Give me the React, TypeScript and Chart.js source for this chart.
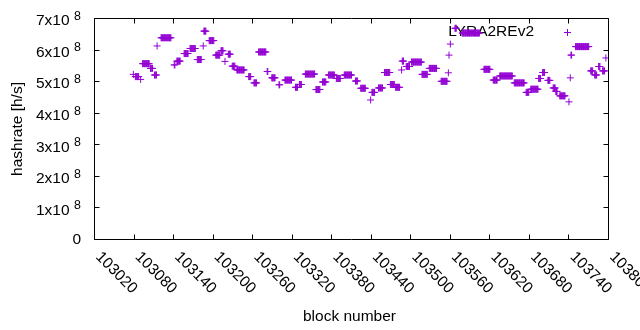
import React, { useEffect, useRef } from 'react';
import { Chart, registerables } from 'chart.js';

Chart.register(...registerables);

// Runs of consecutive blocks that share the same hashrate (h/s)
const runStart = [
  103079, 103082, 103090, 103093, 103105, 103111, 103115, 103121, 103141, 103145,
  103156, 103165, 103176, 103185, 103186, 103194, 103204, 103212, 103218, 103223,
  103229, 103236, 103254, 103262, 103269, 103282, 103289, 103300, 103309, 103325,
  103331, 103340, 103356, 103366, 103375, 103387, 103399, 103416, 103424, 103439,
  103441, 103451, 103460, 103469, 103477, 103486, 103487, 103493, 103501, 103517,
  103528, 103546, 103557, 103558, 103560, 103567, 103578, 103611, 103625, 103635,
  103657, 103675, 103682, 103694, 103700, 103708, 103716, 103720, 103726, 103740,
  103742, 103743, 103750, 103773, 103779, 103785, 103791, 103796,
];
const runEnd = [
  103079, 103087, 103090, 103103, 103108, 103114, 103115, 103136, 103142, 103150,
  103162, 103173, 103182, 103185, 103189, 103201, 103210, 103215, 103218, 103226,
  103233, 103247, 103257, 103266, 103280, 103283, 103294, 103301, 103319, 103328,
  103334, 103354, 103362, 103371, 103384, 103393, 103410, 103419, 103431, 103439,
  103445, 103457, 103468, 103475, 103483, 103486, 103489, 103498, 103516, 103525,
  103539, 103555, 103557, 103558, 103560, 103569, 103604, 103620, 103631, 103654,
  103672, 103679, 103693, 103697, 103703, 103711, 103719, 103722, 103734, 103740,
  103742, 103744, 103770, 103776, 103782, 103787, 103794, 103796,
];
const runValue = [
  5.23e8, 5.16e8, 5.07e8, 5.57e8, 5.42e8, 5.21e8, 6.13e8, 6.39e8, 5.53e8, 5.65e8,
  5.89e8, 6.05e8, 5.70e8, 6.13e8, 6.60e8, 6.30e8, 5.84e8, 5.98e8, 5.64e8, 5.87e8,
  5.49e8, 5.37e8, 5.16e8, 4.96e8, 5.94e8, 5.32e8, 5.12e8, 4.90e8, 5.05e8, 4.82e8,
  4.91e8, 5.24e8, 4.75e8, 4.99e8, 5.21e8, 5.10e8, 5.21e8, 5.02e8, 4.79e8, 4.42e8,
  4.66e8, 4.80e8, 5.29e8, 4.91e8, 4.82e8, 5.37e8, 5.65e8, 5.48e8, 5.62e8, 5.23e8,
  5.42e8, 5.01e8, 5.28e8, 5.84e8, 6.19e8, 6.69e8, 6.54e8, 5.39e8, 5.05e8, 5.18e8,
  4.96e8, 4.66e8, 4.76e8, 5.10e8, 5.29e8, 5.04e8, 4.80e8, 4.69e8, 4.55e8, 4.36e8,
  5.12e8, 5.84e8, 6.11e8, 5.34e8, 5.21e8, 5.48e8, 5.34e8, 5.75e8,
];

const xTicks = [
  103020, 103080, 103140, 103200, 103260, 103320, 103380, 103440,
  103500, 103560, 103620, 103680, 103740, 103800,
];
const yTicks = [0, 1e8, 2e8, 3e8, 4e8, 5e8, 6e8, 7e8];
const yTickMantissa = ['0', '1x10', '2x10', '3x10', '4x10', '5x10', '6x10', '7x10'];
const yTickExponent = ['', '8', '8', '8', '8', '8', '8', '8'];

const seriesName = 'LYRA2REv2';
const xTitle = 'block number';
const yTitle = 'hashrate [h/s]';

const COLOR = '#9400d3';
const FAMILY = '"Liberation Sans", Arial, sans-serif';
const FONT = `15.5px ${FAMILY}`;
const SUP_FONT = `12.4px ${FAMILY}`;
const TICK = 5;

const crisp = (v: number) => Math.round(v - 0.5) + 0.5;

const points: { x: number; y: number }[] = [];
runStart.forEach((s, i) => {
  for (let b = s; b <= runEnd[i]; b++) points.push({ x: b, y: runValue[i] });
});

const framePlugin = {
  id: 'gnuplotFrame',
  beforeDatasetsDraw(chart: any) {
    const { ctx, chartArea } = chart;
    const { right, top } = chartArea;
    ctx.save();
    ctx.font = FONT;
    ctx.fillStyle = '#000';
    ctx.textAlign = 'right';
    ctx.textBaseline = 'middle';
    ctx.fillText(seriesName, right - 74.5, top + 13);
    // legend sample
    const sx = crisp(right - 41), sy = crisp(top + 14);
    ctx.strokeStyle = COLOR;
    ctx.lineWidth = 1;
    ctx.beginPath();
    ctx.moveTo(sx - 3.5, sy);
    ctx.lineTo(sx + 3.5, sy);
    ctx.moveTo(sx, sy - 3.5);
    ctx.lineTo(sx, sy + 3.5);
    ctx.stroke();
    ctx.restore();
  },
  afterDraw(chart: any) {
    const { ctx, chartArea } = chart;
    const { left, right, top, bottom } = chartArea;
    const xs = chart.scales.x;
    const ys = chart.scales.y;
    ctx.save();
    ctx.strokeStyle = '#000';
    ctx.lineWidth = 1;
    ctx.beginPath();
    ctx.rect(crisp(left), crisp(top), crisp(right) - crisp(left), crisp(bottom) - crisp(top));
    xTicks.forEach((t) => {
      const x = crisp(xs.getPixelForValue(t));
      ctx.moveTo(x, crisp(bottom));
      ctx.lineTo(x, crisp(bottom) - TICK);
      ctx.moveTo(x, crisp(top));
      ctx.lineTo(x, crisp(top) + TICK);
    });
    yTicks.forEach((t) => {
      const y = crisp(ys.getPixelForValue(t));
      ctx.moveTo(crisp(left), y);
      ctx.lineTo(crisp(left) + TICK, y);
      ctx.moveTo(crisp(right), y);
      ctx.lineTo(crisp(right) - TICK, y);
    });
    ctx.stroke();

    ctx.fillStyle = '#000';
    // y tick labels
    const labelRight = left - 13.5;
    yTicks.forEach((t, i) => {
      const y = ys.getPixelForValue(t);
      const exp = yTickExponent[i];
      if (!exp) {
        ctx.font = FONT;
        ctx.textAlign = 'right';
        ctx.textBaseline = 'middle';
        ctx.fillText(yTickMantissa[i], labelRight, y);
        return;
      }
      ctx.font = SUP_FONT;
      ctx.textAlign = 'right';
      ctx.textBaseline = 'middle';
      const ew = ctx.measureText(exp).width;
      ctx.fillText(exp, labelRight, y - 2);
      ctx.font = FONT;
      ctx.fillText(yTickMantissa[i], labelRight - ew - 4.5, y + 2.5);
    });

    // x tick labels, rotated clockwise
    ctx.font = FONT;
    ctx.textAlign = 'left';
    ctx.textBaseline = 'middle';
    xTicks.forEach((t) => {
      const x = xs.getPixelForValue(t);
      ctx.save();
      ctx.translate(x + 3.5, bottom + 15);
      ctx.rotate(Math.PI / 4);
      ctx.fillText(String(t), 0, 0);
      ctx.restore();
    });

    // axis titles
    ctx.textAlign = 'center';
    ctx.textBaseline = 'middle';
    ctx.fillText(xTitle, (left + right) / 2 - 2, 317);
    ctx.save();
    ctx.translate(18, (top + bottom) / 2);
    ctx.rotate(-Math.PI / 2);
    ctx.fillText(yTitle, 0, 0);
    ctx.restore();
    ctx.restore();
  },
};

export default function App() {
  const ref = useRef<HTMLCanvasElement | null>(null);
  useEffect(() => {
    if (!ref.current) return;
    const chart = new Chart(ref.current, {
      type: 'scatter',
      data: {
        datasets: [
          {
            label: seriesName,
            data: points,
            pointStyle: 'cross',
            pointRadius: 3.5,
            pointBorderWidth: 1,
            borderColor: COLOR,
            backgroundColor: COLOR,
            showLine: false,
          },
        ],
      },
      options: {
        responsive: false,
        animation: false,
        devicePixelRatio: 1,
        events: [],
        layout: { padding: { left: 94.5, right: 31.5, top: 18.5, bottom: 90.5 } },
        scales: {
          x: { type: 'linear', min: 103020, max: 103800, display: false },
          y: { type: 'linear', min: 0, max: 7e8, display: false },
        },
        plugins: { legend: { display: false }, tooltip: { enabled: false } },
      },
      plugins: [framePlugin],
    });
    return () => chart.destroy();
  }, []);
  return (
    <div style={{ position: 'absolute', left: 0, top: 0, width: 640, height: 330, background: '#fff' }}>
      <canvas ref={ref} width={640} height={330} />
    </div>
  );
}
